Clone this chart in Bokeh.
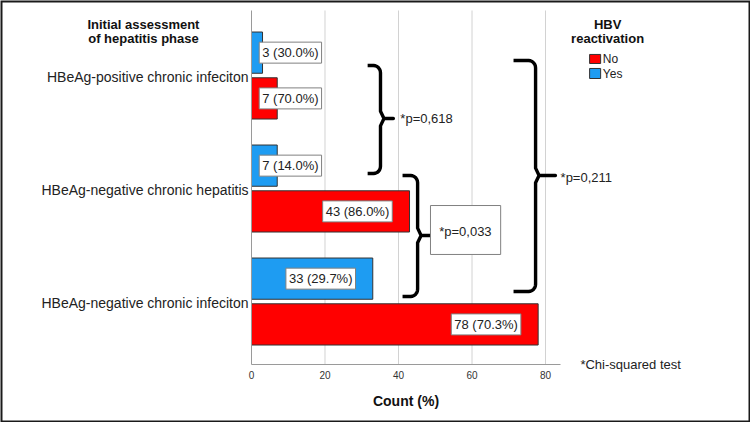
import math
from bokeh.plotting import figure
from bokeh.models import Range1d, FixedTicker, Label
from bokeh.core.properties import value
from bokeh.embed import file_html
from bokeh.resources import INLINE

# ---------------- data ----------------
categories = ["HBeAg-positive chronic infeciton",
              "HBeAg-negative chronic hepatitis",
              "HBeAg-negative chronic infeciton"]
series = ["No", "Yes"]
no_counts = [7, 43, 78]
yes_counts = [3, 7, 33]
no_pct = [70.0, 86.0, 70.3]
yes_pct = [30.0, 14.0, 29.7]
x_ticks = [0, 20, 40, 60, 80]
p_values = ["*p=0,618", "*p=0,033", "*p=0,211"]
footnote = "*Chi-squared test"
y_title = ["Initial assessment", "of hepatitis phase"]
legend_title = ["HBV", "reactivation"]
x_title = "Count (%)"

RED = "#ff0000"
BLUE = "#1e9cf2"
EDGE = "#333333"
FONT = "Liberation Sans"

n = len(categories)
ypos = [n - 1 - i for i in range(n)]

X_MAX = 84.2                  # end of the x axis line
Y_BOT, Y_TOP = -0.54, 2.593   # extent of the plotting area
XR = (-68.299, 135.782)
YR = (-1.0531, 2.6814)

p = figure(width=750, height=422, output_backend="svg", toolbar_location=None,
           x_range=Range1d(*XR), y_range=Range1d(*YR),
           min_border=0, min_border_left=0, min_border_right=0,
           min_border_top=0, min_border_bottom=0)
p.outline_line_color = None
p.background_fill_color = "white"
p.border_fill_color = "white"
p.xgrid.visible = False
p.ygrid.visible = False

# grid lines (vertical, within the plotting area)
gx = [t for t in x_ticks if t > 0]
p.segment(x0=gx, x1=gx, y0=[Y_BOT] * len(gx), y1=[Y_TOP] * len(gx),
          line_color="#d2d2d2", line_width=1)

# axes
xa = p.xaxis[0]
xa.fixed_location = Y_BOT
xa.ticker = FixedTicker(ticks=x_ticks)
xa.bounds = (0, X_MAX)
xa.axis_line_color = "#9a9a9a"
xa.major_tick_line_color = None
xa.minor_tick_line_color = None
xa.major_tick_out = 0
xa.major_tick_in = 0
xa.major_label_standoff = 6
xa.major_label_text_font = FONT
xa.major_label_text_font_size = "10px"
xa.major_label_text_color = "#333333"
xa.axis_label = x_title
xa.axis_label_text_font = FONT
xa.axis_label_text_font_style = "bold"
xa.axis_label_text_font_size = "14px"
xa.axis_label_text_color = "#111111"
xa.axis_label_standoff = 11

ya = p.yaxis[0]
ya.fixed_location = 0
ya.bounds = (Y_BOT, Y_TOP)
ya.ticker = FixedTicker(ticks=ypos)
ya.major_label_overrides = {ypos[i]: categories[i] for i in range(n)}
ya.axis_line_color = "#9a9a9a"
ya.major_tick_line_color = None
ya.minor_tick_line_color = None
ya.major_tick_out = 0
ya.major_tick_in = 0
ya.major_label_standoff = 3
ya.major_label_text_font = FONT
ya.major_label_text_font_size = "14px"
ya.major_label_text_color = "#222222"

# bars
yes_y = [c + 0.22 for c in ypos]
no_y = [c - 0.185 for c in ypos]
p.hbar(y=yes_y, left=0, right=yes_counts, height=0.365,
       fill_color=BLUE, line_color=EDGE, line_width=1)
p.hbar(y=no_y, left=0, right=no_counts, height=0.365,
       fill_color=RED, line_color=EDGE, line_width=1)

# bar labels
lab_l = dict(x=[], y=[], t=[])
lab_r = dict(x=[], y=[], t=[])
for counts, pcts, ys in ((yes_counts, yes_pct, yes_y), (no_counts, no_pct, no_y)):
    for c, pc, yy in zip(counts, pcts, ys):
        txt = f"{c} ({pc:.1f}%)"
        if c > 20:
            lab_r["x"].append(c - 4.7); lab_r["y"].append(yy); lab_r["t"].append(txt)
        else:
            lab_l["x"].append(2.1); lab_l["y"].append(yy); lab_l["t"].append(txt)

common = dict(text_baseline="middle", text_font=value(FONT), text_font_size="13px",
              text_color="#222222", background_fill_color="white",
              border_line_color="#808080", border_line_width=1, padding=3)
p.text(x=lab_l["x"], y=lab_l["y"], text=lab_l["t"], text_align="left", **common)
p.text(x=lab_r["x"], y=lab_r["y"], text=lab_r["t"], text_align="right", **common)


# curly braces
def brace(x0, xv, xt, ytop, ybot, ymid):
    rx, ry = 1.9, 0.065
    xs, ys = [x0], [ytop]
    for k in range(0, 7):
        a = math.pi / 2 * k / 6
        xs.append(xv - rx + rx * math.sin(a)); ys.append(ytop - ry + ry * math.cos(a))
    xs += [xv, xv + rx * 0.5, xt, xv + rx * 0.5, xv]
    ys += [ymid + ry, ymid, ymid, ymid, ymid - ry]
    for k in range(0, 7):
        a = math.pi / 2 * k / 6
        xs.append(xv - rx + rx * math.cos(a)); ys.append(ybot + ry - ry * math.sin(a))
    xs.append(x0); ys.append(ybot)
    return xs, ys


braces = [
    (31.6, 35.1, 38.6, 2.106, 1.150, 1.637),
    (41.1, 45.2, 48.7, 1.133, 0.062, 0.602),
    (71.3, 77.3, 82.7, 2.150, 0.106, 1.133),
]
for b in braces:
    bx, by = brace(*b)
    p.line(bx, by, line_color="black", line_width=3.4, line_join="round")

# p-value labels
txt_kw = dict(text_font=FONT, text_font_size="13px", text_baseline="middle",
              text_color="#222222")
p.add_layout(Label(x=40.5, y=1.637, text=p_values[0], text_align="left", **txt_kw))
p.quad(left=[48.7], right=[67.8], bottom=[0.434], top=[0.867],
       fill_color="white", line_color="#808080", line_width=1)
p.add_layout(Label(x=58.2, y=0.637, text=p_values[1], text_align="center", **txt_kw))
p.add_layout(Label(x=84.1, y=1.115, text=p_values[2], text_align="left", **txt_kw))
p.add_layout(Label(x=89.5, y=Y_BOT, text=footnote, text_align="left", **txt_kw))

# legend
p.quad(left=[92.0], right=[95.0], bottom=[2.124], top=[2.204], fill_color=RED, line_color=EDGE)
p.quad(left=[92.0], right=[95.0], bottom=[1.991], top=[2.080], fill_color=BLUE, line_color=EDGE)
p.add_layout(Label(x=95.6, y=2.164, text=series[0], text_font=FONT, text_font_size="12px",
                   text_baseline="middle", text_align="left", text_color="#222222"))
p.add_layout(Label(x=95.6, y=2.035, text=series[1], text_font=FONT, text_font_size="12px",
                   text_baseline="middle", text_align="left", text_color="#222222"))
for i, t in enumerate(legend_title):
    p.add_layout(Label(x=96.9, y=2.469 - 0.124 * i, text=t, text_font=FONT,
                       text_font_size="13px", text_font_style="bold",
                       text_baseline="middle", text_align="center", text_color="#111111"))
for i, t in enumerate(y_title):
    p.add_layout(Label(x=-29.4, y=2.469 - 0.124 * i, text=t, text_font=FONT,
                       text_font_size="13px", text_font_style="bold",
                       text_baseline="middle", text_align="center", text_color="#111111"))

# outer frame of the picture
p.quad(left=[XR[0]], right=[XR[1]], bottom=[YR[0]], top=[YR[1]],
       fill_color=None, line_color="#1a1a1a", line_width=4)

open("out.html", "w").write(file_html(p, INLINE))
